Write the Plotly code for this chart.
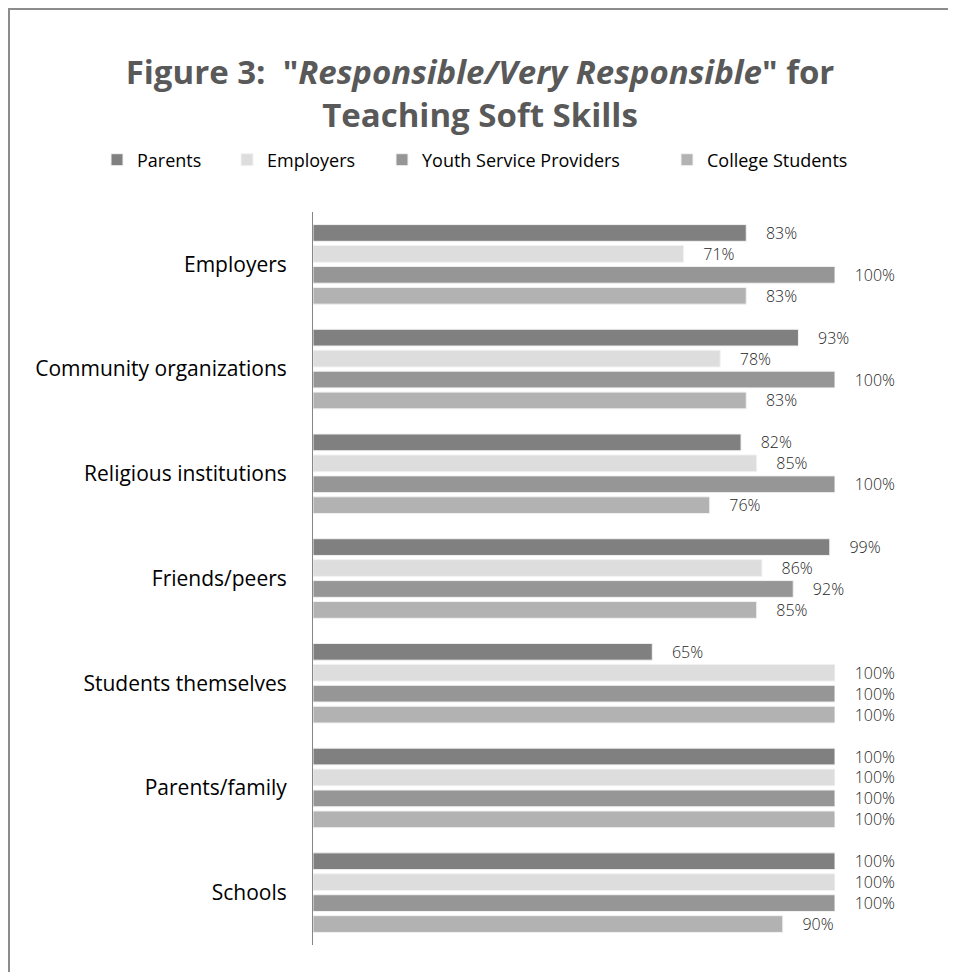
import plotly.graph_objects as go

categories = ["Employers", "Community organizations", "Religious institutions",
              "Friends/peers", "Students themselves", "Parents/family", "Schools"]
series_names = ["Parents", "Employers", "Youth Service Providers", "College Students"]
parents = [83, 93, 82, 99, 65, 100, 100]
employers = [71, 78, 85, 86, 100, 100, 100]
youth = [100, 100, 100, 92, 100, 100, 100]
college = [83, 83, 76, 85, 100, 100, 90]
colors = ["#808080", "#DDDDDD", "#969696", "#B2B2B2"]

# page offset (body margin) is 8px; figure coords = reference coords - 8
OFF = 8
W, H = 956 - OFF, 972 - OFF
L, R, T, B = 313 - OFF, 835 - OFF, 212 - OFF, 945 - OFF

legend_text_x = [137, 267, 422, 707]   # reference page x of legend texts
legend_keys = ["legend", "legend2", "legend3", "legend4"]

fig = go.Figure()
for name, vals, col, lk in zip(series_names, [parents, employers, youth, college], colors, legend_keys):
    fig.add_trace(go.Bar(
        y=categories, x=vals, name=name, orientation="h",
        marker=dict(color=col, line=dict(color="#F2F2F2", width=1)),
        text=[f"{v}%" for v in vals],
        texttemplate="    %{text}",
        textposition="outside",
        constraintext="none",
        textfont=dict(family="Open Sans", size=16, color="#262626", weight=300),
        cliponaxis=False,
        legend=lk,
    ))

legend_common = dict(
    orientation="h", xanchor="left", xref="container",
    y=1 - (160 - OFF) / H, yanchor="middle", yref="container",
    font=dict(family="Open Sans", size=18, color="#000000"),
    itemwidth=30, bgcolor="rgba(0,0,0,0)", borderwidth=0,
)

layout_legends = {}
for lk, tx in zip(legend_keys, legend_text_x):
    d = dict(legend_common)
    d["x"] = (tx - OFF - 40) / W
    layout_legends[lk] = d

fig.update_layout(
    width=W, height=H,
    margin=dict(l=L, r=W - R, t=T, b=H - B, pad=0),
    paper_bgcolor="white", plot_bgcolor="white",
    barmode="group", bargap=0.2, bargroupgap=0.2,
    font=dict(family="Open Sans", color="#000000"),
    title=dict(
        text='Figure 3:  "<i>Responsible/Very Responsible</i>" for<br>Teaching Soft Skills',
        x=(480 - OFF) / W, xanchor="center", xref="container",
        y=1 - (84 - OFF) / H, yanchor="top", yref="container",
        font=dict(family="Open Sans", size=33, color="#595959", weight="bold"),
    ),
    xaxis=dict(range=[0, 100], visible=False, showgrid=False, fixedrange=True),
    yaxis=dict(
        autorange="reversed", showline=True, linecolor="#868686", linewidth=1,
        ticks="", showgrid=False, ticklabelstandoff=21,
        tickfont=dict(family="Open Sans", size=21, color="#000000"),
    ),
    showlegend=True,
    **layout_legends,
)

pw, ph = R - L, B - T
def px(x):
    return (x - L) / pw
def py(y):
    return (B - y) / ph

fig.add_shape(type="line", xref="paper", yref="paper",
              x0=px(1), x1=px(1), y0=py(0), y1=py(H + 5),
              line=dict(color="#8C8C8C", width=2))
fig.add_shape(type="line", xref="paper", yref="paper",
              x0=px(0), x1=px(W + 5), y0=py(1), y1=py(1),
              line=dict(color="#8C8C8C", width=2))

fig.write_html("out.html")
